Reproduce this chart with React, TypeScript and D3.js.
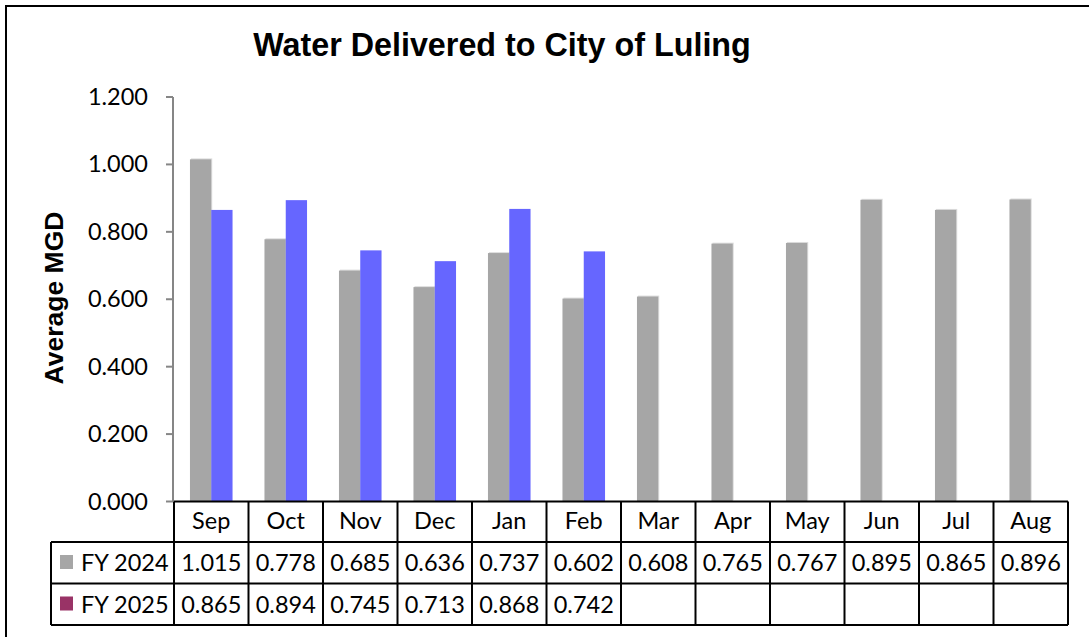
import React from "react";
import * as d3 from "d3";

const months = ["Sep", "Oct", "Nov", "Dec", "Jan", "Feb", "Mar", "Apr", "May", "Jun", "Jul", "Aug"];
const fy2024 = [1.015, 0.778, 0.685, 0.636, 0.737, 0.602, 0.608, 0.765, 0.767, 0.895, 0.865, 0.896];
const fy2025: (number | null)[] = [0.865, 0.894, 0.745, 0.713, 0.868, 0.742, null, null, null, null, null, null];
const yTicks = [0, 0.2, 0.4, 0.6, 0.8, 1.0, 1.2];
const seriesNames = ["FY 2024", "FY 2025"];
const barColors = ["#A6A6A6", "#6666FF"];
const legendColors = ["#A6A6A6", "#993366"];

const W = 1089;
const H = 637;
const plotLeft = 174;
const plotRight = 1068;
const plotTop = 97;
const plotBottom = 501.5;
const row1 = 542;
const row2 = 583.5;
const row3 = 625;
const labelLeft = 51;

const calFont = "Lato, 'Open Sans', sans-serif";
const arialFont = "'Liberation Sans', Arial, sans-serif";

export default function App() {
  const x = d3.scaleBand<string>().domain(months).range([plotLeft, plotRight]).padding(0);
  const bw = x.bandwidth();
  const x1 = d3.scaleBand<string>().domain(seriesNames).range([0, bw]).paddingInner(0).paddingOuter(0.75);
  const y = d3.scaleLinear().domain([0, 1.2]).range([plotBottom, plotTop]);
  const fmt = d3.format(".3f");
  const series = [fy2024, fy2025];
  const rows = [
    { top: row1, bottom: row2 },
    { top: row2, bottom: row3 },
  ];

  return (
    <svg
      width={W}
      height={H}
      style={{ position: "absolute", left: 0, top: 0, background: "#fff" }}
    >
      <rect x={0} y={0} width={W} height={H} fill="#fff" />
      {/* outer frame */}
      <path d={`M6,${H + 5} L6,6 L${W + 5},6`} fill="none" stroke="#000" strokeWidth={2} />

      {/* title */}
      <text x={502} y={56} textAnchor="middle" fontFamily={arialFont} fontWeight="bold" fontSize={32.3} fill="#000">
        Water Delivered to City of Luling
      </text>

      {/* y axis title */}
      <text
        transform={`translate(63,298) rotate(-90)`}
        textAnchor="middle"
        fontFamily={arialFont}
        fontWeight="bold"
        fontSize={26.5}
        fill="#000"
      >
        Average MGD
      </text>

      {/* bars */}
      {series.map((vals, si) =>
        months.map((m, i) => {
          const v = vals[i];
          if (v == null) return null;
          const bx = (x(m) as number) + (x1(seriesNames[si]) as number);
          const by = y(v);
          return (
            <g key={`${si}-${m}`}>
              {si === 0 && (
                <rect x={bx + 1} y={by - 1} width={x1.bandwidth()} height={plotBottom - by} fill="#DDDDDD" />
              )}
              <rect x={bx} y={by} width={x1.bandwidth()} height={plotBottom - by} fill={barColors[si]} />
            </g>
          );
        })
      )}

      {/* y axis */}
      <line x1={plotLeft - 1} x2={plotLeft - 1} y1={plotTop} y2={plotBottom} stroke="#868686" strokeWidth={2} />
      {yTicks.map((t) => (
        <g key={t}>
          <line x1={plotLeft - 8} x2={plotLeft - 1} y1={y(t)} y2={y(t)} stroke="#868686" strokeWidth={2} />
          <text x={148} y={y(t) + 8} textAnchor="end" fontFamily={calFont} fontSize={23.5} fill="#000">
            {fmt(t)}
          </text>
        </g>
      ))}

      {/* data table */}
      <g stroke="#000" strokeWidth={2} fill="none">
        <line x1={plotLeft} x2={plotRight} y1={plotBottom} y2={plotBottom} />
        <line x1={labelLeft} x2={plotRight} y1={row1} y2={row1} />
        <line x1={labelLeft} x2={plotRight} y1={row2} y2={row2} />
        <line x1={labelLeft} x2={plotRight} y1={row3} y2={row3} />
        <line x1={labelLeft} x2={labelLeft} y1={row1} y2={row3} />
        {months.map((m) => (
          <line key={m} x1={x(m) as number} x2={x(m) as number} y1={plotBottom} y2={row3} />
        ))}
        <line x1={plotRight} x2={plotRight} y1={plotBottom} y2={row3} />
      </g>

      {months.map((m) => (
        <text
          key={`h-${m}`}
          x={(x(m) as number) + bw / 2}
          y={529}
          textAnchor="middle"
          fontFamily={calFont}
          fontSize={23.5}
          fill="#000"
        >
          {m}
        </text>
      ))}

      {rows.map((r, si) => (
        <g key={`row-${si}`}>
          <rect x={60} y={r.top + 13} width={13} height={14} fill={legendColors[si]} />
          <text x={81} y={r.top + 29} fontFamily={calFont} fontSize={23.5} fill="#000">
            {seriesNames[si]}
          </text>
          {months.map((m, i) => {
            const v = series[si][i];
            if (v == null) return null;
            return (
              <text
                key={`c-${si}-${m}`}
                x={(x(m) as number) + bw / 2}
                y={r.top + 29}
                textAnchor="middle"
                fontFamily={calFont}
                fontSize={23.5}
                fill="#000"
              >
                {fmt(v)}
              </text>
            );
          })}
        </g>
      ))}
    </svg>
  );
}
